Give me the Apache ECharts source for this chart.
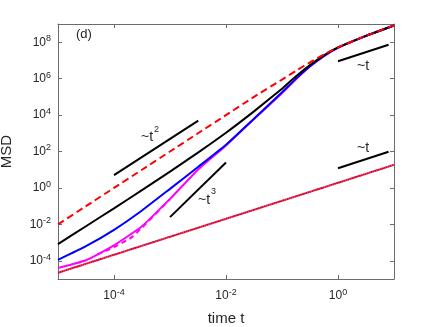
<!DOCTYPE html>
<html lang="en">
<head>
    <meta charset="utf-8">
    <title>MSD</title>
    <script type="text/javascript" src="https://cdn.jsdelivr.net/npm/echarts@6/dist/echarts.min.js"></script>
    <style type="text/css">
        body { margin: 0; background: #fff; }
        #main { width: 436px; height: 327px; }
    </style>
</head>
<body>
<div id="main"></div>
<script type="text/javascript">
    // time grid (half decades, quarter decades near the knee)
    var tGrid = [1e-5, 3.16e-5, 1e-4, 3.16e-4, 1e-3, 3.16e-3, 1e-2, 3.16e-2, 0.1, 0.178, 0.316, 0.562, 1, 3.16, 10];

    var redDashed = [1e-2, 0.1, 1, 10, 100, 1e3, 1e4, 1e5, 8.9e5, 2.7e6, 7.9e6, 2.14e7, 5.2e7, 2.24e8, 8.3e8];
    var blackLine = [8.3e-4, 7.9e-3, 0.076, 0.76, 7.9, 87, 1.07e3, 1.6e4, 2.8e5, 1.35e6, 5.6e6, 1.9e7, 5.2e7, 2.24e8, 8.3e8];
    var blueLine = [1.12e-4, 6.3e-4, 5e-3, 0.058, 0.89, 14, 234, 6.3e3, 1.78e5, 1e6, 4.8e6, 1.78e7, 5.0e7, 2.24e8, 8.3e8];
    var magentaLine = [4e-5, 1.07e-4, 7.1e-4, 7.9e-3, 0.25, 10, 214, 6e3, 1.58e5, 9.3e5, 4.6e6, 1.74e7, 4.9e7, 2.24e8, 8.3e8];

    // magenta dashed piece
    var magentaDashT = [5e-5, 1e-4, 2e-4, 3.16e-4, 1e-3];
    var magentaDashed = [2.2e-4, 5.6e-4, 1.8e-3, 6.6e-3, 0.24];

    // dotted ~t line
    var dottedT = [1e-5, 10];
    var dottedY = [2.2e-5, 18.6];

    // guide segments [t, y]
    var guideT2 = [[1e-4, 5], [3.2e-3, 5e3]];
    var guideT3 = [[1e-3, 0.025], [1e-2, 25]];
    var guideT1a = [[1, 9e6], [8, 7.2e7]];
    var guideT1b = [[1, 12], [8, 96]];

    // tick positions
    var xTicks = [1e-4, 1e-2, 1];
    var yTicks = [1e-4, 1e-2, 1, 1e2, 1e4, 1e6, 1e8];

    function pairs(xs, ys) {
        var out = [];
        for (var i = 0; i < xs.length; i++) {
            out.push([xs[i], ys[i]]);
        }
        return out;
    }

    var font = 'Liberation Sans, Arial, sans-serif';
    var txtColor = '#262626';
    var frameColor = '#6b6b6b';

    var rich = {
        b: {fontSize: 12, fontFamily: font, color: txtColor, lineHeight: 16},
        s: {fontSize: 9, fontFamily: font, color: txtColor, lineHeight: 8, verticalAlign: 'top'}
    };

    function powLabel(v) {
        var e = Math.round(Math.log10(v));
        return '{b|10}{s|' + e + '}';
    }

    function axis(pos, withLabels, min, max, ticks, extra) {
        var a = {
            type: 'log',
            logBase: 10,
            min: min,
            max: max,
            position: pos,
            splitLine: {show: false},
            minorTick: {show: false},
            axisLine: {show: true, onZero: false, lineStyle: {color: frameColor, width: 1}},
            axisTick: {show: true, inside: true, length: 4, customValues: ticks, lineStyle: {color: frameColor, width: 1}},
            axisLabel: {
                show: withLabels,
                customValues: ticks,
                formatter: powLabel,
                rich: rich
            }
        };
        for (var k in extra) a[k] = extra[k];
        return a;
    }

    function lineSeries(data, color, type, width, z) {
        return {
            type: 'line',
            data: data,
            showSymbol: false,
            symbol: 'none',
            smooth: 0.15,
            silent: true,
            z: z,
            lineStyle: {color: color, width: width, type: type}
        };
    }

    var myChart = echarts.init(document.getElementById('main'));

    var xBottom = axis('bottom', true, 1e-5, 10, xTicks, {
        name: 'time t',
        nameLocation: 'middle',
        nameGap: 32,
        nameTextStyle: {fontSize: 15, fontFamily: font, color: txtColor}
    });
    xBottom.axisLabel.margin = 9;
    var xTop = axis('top', false, 1e-5, 10, xTicks, {});
    var yLeft = axis('left', true, 1e-5, 1e9, yTicks, {
        name: 'MSD',
        nameLocation: 'middle',
        nameRotate: 90,
        nameGap: 44,
        nameTextStyle: {fontSize: 15, fontFamily: font, color: txtColor}
    });
    yLeft.axisLabel.margin = 7;
    var yRight = axis('right', false, 1e-5, 1e9, yTicks, {});

    var dotted1 = lineSeries(pairs(dottedT, dottedY), '#c01070', [2, 2], 2, 2);
    dotted1.lineStyle.dashOffset = 2;
    var dotted2 = lineSeries(pairs(dottedT, dottedY), '#ee0000', [2, 2], 2, 3);

    var option = {
        animation: false,
        backgroundColor: '#fff',
        grid: {left: 58, right: 42, top: 24, bottom: 48, containLabel: false, outerBoundsMode: 'none'},
        xAxis: [xBottom, xTop],
        yAxis: [yLeft, yRight],
        series: [
            dotted1,
            dotted2,
            lineSeries(pairs(magentaDashT, magentaDashed), '#ff00ff', [5, 4], 2, 4),
            lineSeries(pairs(tGrid, magentaLine), '#ff00ff', 'solid', 2, 5),
            lineSeries(pairs(tGrid, blueLine), '#0000ff', 'solid', 2, 6),
            lineSeries(pairs(tGrid, blackLine), '#000000', 'solid', 2, 7),
            lineSeries(pairs(tGrid, redDashed), '#ff0000', [7, 4], 2, 8),
            lineSeries(guideT2, '#000000', 'solid', 2, 9),
            lineSeries(guideT3, '#000000', 'solid', 2, 9),
            lineSeries(guideT1a, '#000000', 'solid', 2, 9),
            lineSeries(guideT1b, '#000000', 'solid', 2, 9)
        ],
        graphic: [
            {type: 'text', left: 76, top: 28, style: {text: '(d)', font: '13px ' + font, fill: txtColor}},
            {type: 'text', x: 141, y: 137, style: {text: '~t', font: '14px ' + font, fill: txtColor, verticalAlign: 'middle'}},
            {type: 'text', x: 154, y: 130, style: {text: '2', font: '9px ' + font, fill: txtColor, verticalAlign: 'middle'}},
            {type: 'text', x: 198, y: 200, style: {text: '~t', font: '14px ' + font, fill: txtColor, verticalAlign: 'middle'}},
            {type: 'text', x: 211, y: 192, style: {text: '3', font: '9px ' + font, fill: txtColor, verticalAlign: 'middle'}},
            {type: 'text', x: 357, y: 66, style: {text: '~t', font: '14px ' + font, fill: txtColor, verticalAlign: 'middle'}},
            {type: 'text', x: 357, y: 148, style: {text: '~t', font: '14px ' + font, fill: txtColor, verticalAlign: 'middle'}}
        ]
    };

    myChart.setOption(option);
</script>
</body>
</html>
